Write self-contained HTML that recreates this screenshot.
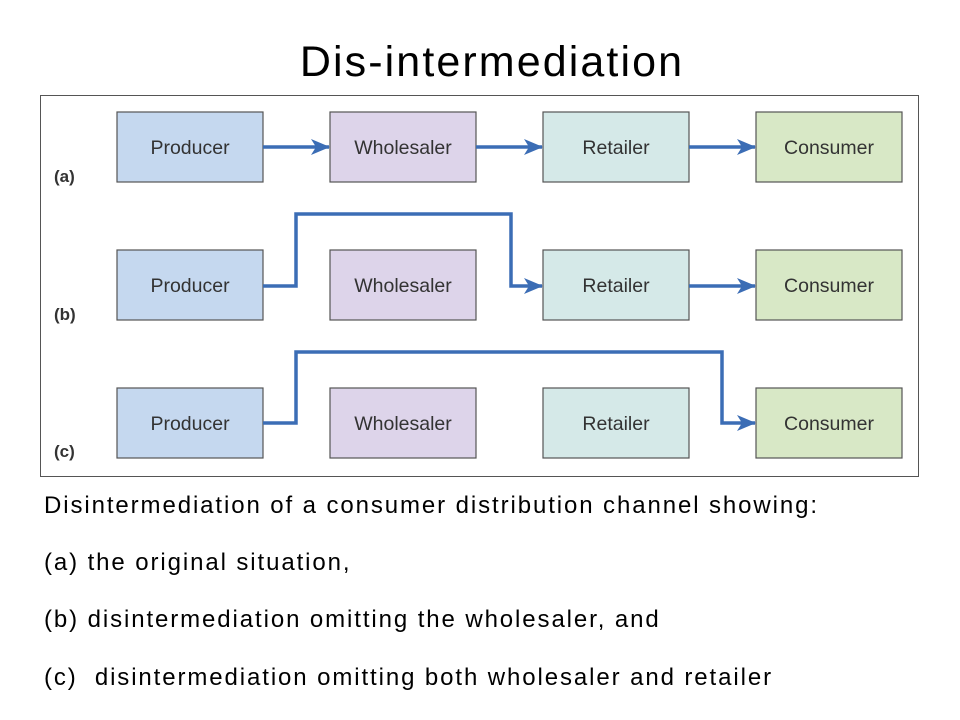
<!DOCTYPE html>
<html><head><style>
body{margin:0;width:960px;height:720px;background:#fff;overflow:hidden;font-family:"Liberation Sans",sans-serif;position:relative}
.t{position:absolute;left:12px;width:960px;top:38px;text-align:center;font-size:43px;letter-spacing:2.1px;color:#000}
.cap{position:absolute;left:44px;font-size:24px;letter-spacing:1.9px;color:#000;white-space:pre}
</style></head><body>
<div class="t">Dis-intermediation</div>
<svg width="960" height="720" style="position:absolute;left:0;top:0">
<defs><marker id="a" markerWidth="20" markerHeight="20" refX="18" refY="8" orient="auto" markerUnits="userSpaceOnUse" viewBox="0 0 20 16"><path d="M0,0 L19,8 L0,16 L5,8z" fill="#3b6db5"/></marker></defs>
<rect x="40.5" y="95.5" width="878" height="381" fill="#fff" stroke="#555"/>
<g stroke="#555" stroke-width="1.2">
<g id="r">
<rect x="117" y="112" width="146" height="70" fill="#c5d8ef"/>
<rect x="330" y="112" width="146" height="70" fill="#ddd4ea"/>
<rect x="543" y="112" width="146" height="70" fill="#d5e9e8"/>
<rect x="756" y="112" width="146" height="70" fill="#d8e8c6"/>
</g>
<use href="#r" y="138"/><use href="#r" y="276"/>
</g>
<g font-size="19.5" fill="#333" text-anchor="middle">
<text x="190" y="154">Producer</text><text x="403" y="154">Wholesaler</text><text x="616" y="154">Retailer</text><text x="829" y="154">Consumer</text>
<text x="190" y="292">Producer</text><text x="403" y="292">Wholesaler</text><text x="616" y="292">Retailer</text><text x="829" y="292">Consumer</text>
<text x="190" y="430">Producer</text><text x="403" y="430">Wholesaler</text><text x="616" y="430">Retailer</text><text x="829" y="430">Consumer</text>
</g>
<g font-size="17" font-weight="bold" fill="#333">
<text x="54" y="182">(a)</text><text x="54" y="320">(b)</text><text x="54" y="457">(c)</text>
</g>
<g stroke="#3b6db5" stroke-width="3.5" fill="none" marker-end="url(#a)">
<path d="M263 147H329"/><path d="M476 147H542"/><path d="M689 147H755"/>
<path d="M263 286H296V214H511V286H542"/><path d="M689 286H755"/>
<path d="M263 423H296V352H722V423H755"/>
</g>
</svg>
<div class="cap" style="top:492px">Disintermediation of a consumer distribution channel showing:</div>
<div class="cap" style="top:549px">(a) the original situation,</div>
<div class="cap" style="top:606px">(b) disintermediation omitting the wholesaler, and</div>
<div class="cap" style="top:664px">(c)  disintermediation omitting both wholesaler and retailer</div>
</body></html>
